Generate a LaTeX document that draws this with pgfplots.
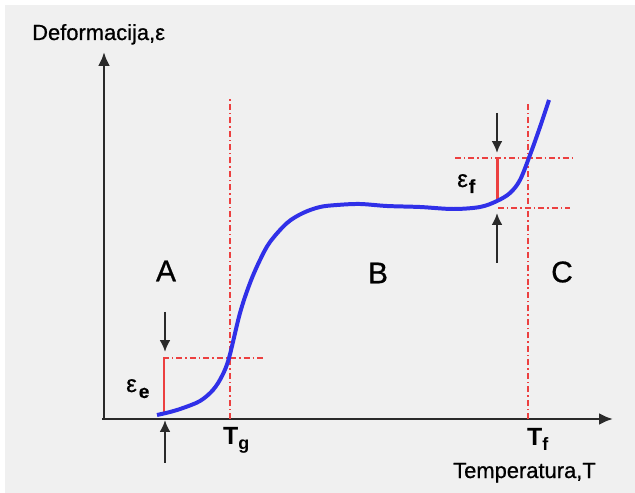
\documentclass[border=0pt]{standalone}
\usepackage{fontspec}
\setmainfont{Liberation Sans}
\newfontfamily\heavy{Liberation Sans}[FakeBold=0.7]
\usepackage{pgfplots}
\pgfplotsset{compat=1.18}
\usetikzlibrary{arrows.meta}

\definecolor{bggray}{HTML}{F0F0F0}
\definecolor{curveblue}{HTML}{3030E8}
\definecolor{guidered}{HTML}{EC4040}
\definecolor{axisblack}{HTML}{2A2A2A}

\begin{document}
\begin{tikzpicture}
\begin{axis}[
    scale only axis,
    width=635bp,
    height=493bp,
    xmin=0, xmax=635,
    ymin=0, ymax=493,
    axis lines=none,
    clip=false,
    guide/.style={guidered, line width=2.2pt, dash pattern=on 6pt off 3pt on 1.5pt off 3pt},
    arr/.style={axisblack, line width=2.3pt, -{Latex[length=12pt,width=11pt]}},
]
% background
\fill[white] (axis cs:0,0) rectangle (axis cs:635,493);
\fill[bggray] (axis cs:5,0) rectangle (axis cs:635,488);

% axes
\addplot[axisblack, line width=3pt, -{Latex[length=14pt,width=12pt]}] coordinates {(104,74) (104,441)};
\addplot[axisblack, line width=3pt, -{Latex[length=14pt,width=12pt]}] coordinates {(102,74) (613,74)};

% guide lines
\addplot[guide] coordinates {(230,74) (230,396)};
\addplot[guide] coordinates {(528,74) (528,391)};
\addplot[guide] coordinates {(163,135) (263,135)};
\addplot[guide] coordinates {(455,335) (576,335)};
\addplot[guide] coordinates {(498,285) (570,285)};

% strain segments
\addplot[guidered, line width=3pt] coordinates {(164,135) (164,80)};
\addplot[guidered, line width=3pt] coordinates {(497,335) (497,291)};

% curve
\addplot[curveblue, line width=4pt, smooth, tension=0.55] coordinates {
    (157,78) (170,81) (183,85) (200,92) (213,103) (222,117) (229,135)
    (240,180) (250,210) (260,233) (270,251) (287,270) (303,280)
    (320,286) (337,288) (360,289) (387,287) (420,286) (453,284)
    (480,286) (497,292) (510,300) (520,313) (530,338) (540,366) (549,393)
};

% arrows
\addplot[arr] coordinates {(165,181) (165,141)};
\addplot[arr] coordinates {(165,30) (165,73)};
\addplot[arr] coordinates {(497,380) (497,340)};
\addplot[arr] coordinates {(497,230) (497,280)};

% labels
\node[anchor=base west, inner sep=0pt, font=\heavy\fontsize{22}{26}\selectfont] at (axis cs:32,453) {Deformacija,ε};
\node[anchor=base west, inner sep=0pt, font=\heavy\fontsize{22}{26}\selectfont] at (axis cs:453,15) {Temperatura,T};
\node[font=\heavy\fontsize{30}{34}\selectfont] at (axis cs:166,222) {A};
\node[font=\heavy\fontsize{30}{34}\selectfont] at (axis cs:378,220) {B};
\node[font=\heavy\fontsize{30}{34}\selectfont] at (axis cs:562,221) {C};
\node[anchor=base west, inner sep=0pt, font=\fontsize{25}{28}\selectfont\bfseries] at (axis cs:223,48) {T\raisebox{-5pt}{\fontsize{18}{20}\selectfont g}};
\node[anchor=base west, inner sep=0pt, font=\fontsize{25}{28}\selectfont\bfseries] at (axis cs:527,47) {T\raisebox{-5pt}{\fontsize{18}{20}\selectfont f}};
\node[anchor=base west, inner sep=0pt, font=\heavy\fontsize{24}{26}\selectfont] at (axis cs:126,101) {ε\hspace{2pt}\raisebox{-6pt}{\fontsize{19}{21}\selectfont\bfseries e}};
\node[anchor=base west, inner sep=0pt, font=\heavy\fontsize{24}{26}\selectfont] at (axis cs:457,306) {ε\hspace{1pt}\raisebox{-6pt}{\fontsize{19}{21}\selectfont\bfseries f}};
\end{axis}
\end{tikzpicture}
\end{document}
